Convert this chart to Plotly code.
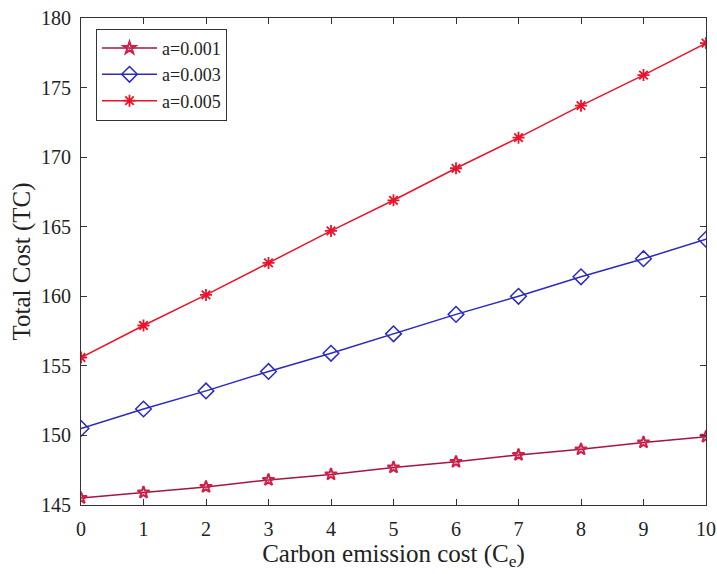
import plotly.graph_objects as go

x = list(range(11))
tc_a001 = [145.5, 145.9, 146.3, 146.8, 147.2, 147.7, 148.1, 148.6, 149.0, 149.5, 149.9]
tc_a003 = [150.5, 151.9, 153.2, 154.6, 155.9, 157.3, 158.7, 160.0, 161.4, 162.7, 164.1]
tc_a005 = [155.6, 157.9, 160.1, 162.4, 164.7, 166.9, 169.2, 171.4, 173.7, 175.9, 178.2]
names = ["a=0.001", "a=0.003", "a=0.005"]

fig = go.Figure()
fig.add_trace(go.Scatter(x=x, y=tc_a001, name=names[0], mode="lines+markers",
                         line=dict(color="#a3163f", width=1.5),
                         marker=dict(symbol="star-open", size=9, color="#d0204a", line=dict(width=2))))
fig.add_trace(go.Scatter(x=x, y=tc_a003, name=names[1], mode="lines+markers",
                         line=dict(color="#2a2ac0", width=1.5),
                         marker=dict(symbol="diamond-open", size=12, color="#2a2ac0", line=dict(width=1.5))))
fig.add_trace(go.Scatter(x=x, y=tc_a005, name=names[2], mode="lines+markers",
                         line=dict(color="#e8142c", width=1.5),
                         marker=dict(symbol="asterisk-open", size=10, color="#e8142c", line=dict(width=1.8))))

axis_common = dict(showline=True, linecolor="#333", linewidth=1.2, mirror="ticks",
                   ticks="inside", ticklen=6, tickcolor="#333", showgrid=False, zeroline=False,
                   automargin=False,
                   tickfont=dict(family="Liberation Serif", size=20, color="#222"))
fig.update_xaxes(range=[0, 10], dtick=1, ticklabelstandoff=6,
                 title=dict(text="Carbon emission cost (C<sub>e</sub>)",
                            font=dict(family="Liberation Serif", size=25, color="#222"), standoff=1),
                 **axis_common)
fig.update_yaxes(range=[145, 180], dtick=5, ticklabelstandoff=5,
                 title=dict(text="Total Cost (TC)",
                            font=dict(family="Liberation Serif", size=25, color="#222"), standoff=3),
                 **axis_common)
fig.update_layout(width=717, height=574, plot_bgcolor="white", paper_bgcolor="white",
                  margin=dict(l=81, r=11, t=18, b=69),
                  legend=dict(x=0.024, y=0.978, xanchor="left", yanchor="top",
                              bgcolor="white", bordercolor="#333", borderwidth=1,
                              font=dict(family="Liberation Serif", size=18, color="#222"),
                              itemwidth=55, tracegroupgap=0))
fig.write_html("out.html")
